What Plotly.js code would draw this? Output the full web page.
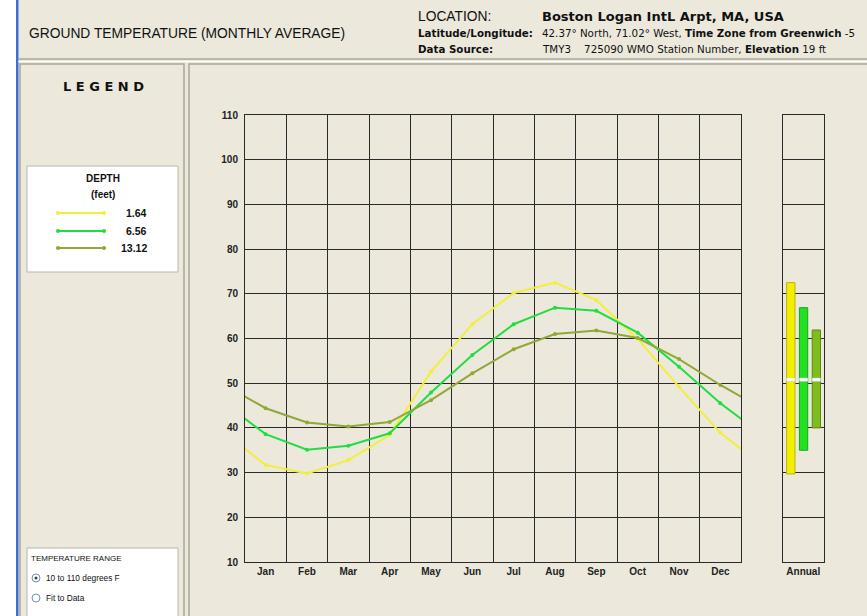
<!DOCTYPE html>
<html>
<head>
<meta charset="utf-8">
<script src="https://cdn.plot.ly/plotly-3.0.1.min.js"></script>
<style>
  html, body { margin: 0; padding: 0; background: #ece9dc; }
  #chart { width: 867px; height: 616px; }
</style>
</head>
<body>
<div id="chart"></div>
<script>
// ---- data ----
const months = ['Jan','Feb','Mar','Apr','May','Jun','Jul','Aug','Sep','Oct','Nov','Dec'];
const depthLabels = ['1.64', '6.56', '13.12'];
const depth164 = [31.7, 29.8, 32.8, 38.4, 52.6, 63.2, 70.2, 72.5, 68.6, 59.9, 49.2, 38.9];
const depth656 = [38.6, 35.1, 36.0, 38.8, 47.9, 56.3, 63.2, 66.9, 66.2, 61.3, 53.7, 45.5];
const depth1312 = [44.4, 41.2, 40.3, 41.3, 46.2, 52.2, 57.6, 61.0, 61.8, 60.1, 55.4, 49.6];
const annualMax = [72.5, 66.9, 61.9];
const annualMin = [29.7, 35.0, 40.0];
const annualMean = [50.8, 50.8, 50.8];
const yTicks = [10, 20, 30, 40, 50, 60, 70, 80, 90, 100, 110];

// ---- styling ----
const lineColors = ['#f2ee3c', '#22dc44', '#8fa836'];
const barColors = ['#f4ef00', '#22e022', '#7dbd1c'];
const barEdge = ['#b9b400', '#18a818', '#5b8a12'];
const W = 867, H = 616;
const px = x => x / W;
const py = y => 1 - y / H;
const FONT = 'Liberation Sans, Arial, sans-serif';
const WIDE = 'DejaVu Sans, Verdana, sans-serif';

// month positions: centres of 12 equal columns; wrap-around points
// (previous Dec / next Jan) let the line run to the panel edges.
const mx = months.map((m, i) => i + 0.5);
function series(vals) {
  return {
    x: [-0.5].concat(mx, [12.5]),
    y: [vals[vals.length - 1]].concat(vals, [vals[0]])
  };
}
const allDepths = [depth164, depth656, depth1312];

const traces = [];
allDepths.forEach((vals, k) => {
  const s = series(vals);
  traces.push({
    type: 'scatter', mode: 'lines+markers', x: s.x, y: s.y,
    xaxis: 'x', yaxis: 'y',
    line: { color: lineColors[k], width: 2 },
    marker: { color: lineColors[k], size: 4, symbol: 'circle' },
    name: depthLabels[k], showlegend: false, hoverinfo: 'skip'
  });
});

// annual range bars
traces.push({
  type: 'bar', x: [0, 1, 2],
  y: annualMax.map((v, i) => v - annualMin[i]),
  base: annualMin, width: 0.65,
  xaxis: 'x2', yaxis: 'y2',
  marker: { color: barColors, line: { color: barEdge, width: 1 } },
  showlegend: false, hoverinfo: 'skip'
});
// annual mean marks
traces.push({
  type: 'bar', x: [0, 1, 2],
  y: annualMean.map(() => 0.7),
  base: annualMean.map(v => v - 0.35), width: 0.65,
  xaxis: 'x2', yaxis: 'y2',
  marker: { color: '#ffffff', line: { color: '#d8d8d8', width: 0.5 } },
  showlegend: false, hoverinfo: 'skip'
});

const shapes = [];
const annotations = [];
function rect(x0, y0, x1, y1, fill, line, lw, layer) {
  shapes.push({ type: 'rect', xref: 'paper', yref: 'paper', layer: layer || 'below',
    x0: px(x0), x1: px(x1), y0: py(y1), y1: py(y0),
    fillcolor: fill, line: { color: line || 'rgba(0,0,0,0)', width: lw === undefined ? 1 : lw } });
}
function hline(x0, x1, y, color, w) {
  shapes.push({ type: 'line', xref: 'paper', yref: 'paper', layer: 'below',
    x0: px(x0), x1: px(x1), y0: py(y), y1: py(y), line: { color: color, width: w } });
}
function text(x, y, t, size, opts, family) {
  opts = opts || {};
  annotations.push(Object.assign({
    xref: 'paper', yref: 'paper', x: px(x), y: py(y), text: t, showarrow: false,
    xanchor: 'left', yanchor: 'middle',
    font: { family: family || FONT, size: size, color: '#111' }
  }, opts));
}

// window chrome
rect(0, 0, 16, 616, '#ffffff', null, 0);
rect(16, 0, 18.5, 616, '#3b6fd6', null, 0);
hline(18, 867, 59, '#a8a698', 1.5);
hline(18, 867, 61.5, '#ffffff', 1);
// panels
rect(20, 64, 184, 640, '#ece9dc', '#a9a799', 1.5);
rect(189, 64, 880, 640, '#ece9dc', '#a9a799', 1.5);
// legend box
rect(27, 166, 178, 272, '#ffffff', '#b8b6aa', 1);
// temperature range box
rect(27, 548, 178, 640, '#ffffff', '#b8b6aa', 1);

// header text
text(27, 33, 'GROUND TEMPERATURE (MONTHLY AVERAGE)', 13.8);
text(416, 16, 'LOCATION:', 13.8);
text(540, 16, '<b>Boston Logan IntL Arpt, MA, USA</b>', 13, {}, WIDE);
text(416, 33, '<b>Latitude/Longitude:</b>', 10.3, {}, WIDE);
text(540, 33, '42.37° North, 71.02° West, <b>Time Zone from Greenwich</b> -5', 10.3, {}, WIDE);
text(416, 49, '<b>Data Source:</b>', 10.3, {}, WIDE);
text(540, 49, 'TMY3&nbsp;&nbsp;&nbsp;&nbsp;725090 WMO Station Number, <b>Elevation</b> 19 ft', 10.3, {}, WIDE);

// legend panel
text(103, 86, '<b>L E G E N D</b>', 13, { xanchor: 'center' }, WIDE);
text(103, 178, '<b>DEPTH</b>', 10, { xanchor: 'center' });
text(103, 194, '<b>(feet)</b>', 10, { xanchor: 'center' });
const legY = [213, 231, 248];
depthLabels.forEach((lab, k) => {
  shapes.push({ type: 'line', xref: 'paper', yref: 'paper', layer: 'above',
    x0: px(58), x1: px(104), y0: py(legY[k]), y1: py(legY[k]),
    line: { color: lineColors[k], width: 2 } });
  [58, 104].forEach(cx => shapes.push({ type: 'circle', xref: 'paper', yref: 'paper', layer: 'above',
    x0: px(cx - 2), x1: px(cx + 2), y0: py(legY[k] + 2), y1: py(legY[k] - 2),
    fillcolor: lineColors[k], line: { width: 0 } }));
  text(149, legY[k], '<b>' + lab + '</b>', 10.5, { xanchor: 'right' });
});

// temperature range panel
text(29, 558, 'TEMPERATURE RANGE', 8);
shapes.push({ type: 'circle', xref: 'paper', yref: 'paper', layer: 'above',
  x0: px(32), x1: px(40), y0: py(582), y1: py(574), fillcolor: '#ffffff', line: { color: '#6f8fb8', width: 1 } });
shapes.push({ type: 'circle', xref: 'paper', yref: 'paper', layer: 'above',
  x0: px(34.5), x1: px(37.5), y0: py(579.5), y1: py(576.5), fillcolor: '#404040', line: { width: 0 } });
text(44, 578, '10 to 110 degrees F', 8.3);
shapes.push({ type: 'circle', xref: 'paper', yref: 'paper', layer: 'above',
  x0: px(32), x1: px(40), y0: py(602), y1: py(594), fillcolor: '#ffffff', line: { color: '#6f8fb8', width: 1 } });
text(44, 598, 'Fit to Data', 8.3);

const tickFont = { family: FONT, size: 10, color: '#222', weight: 'bold' };
const gridC = '#2a2a2a';
const layout = {
  width: W, height: H,
  margin: { l: 0, r: 0, t: 0, b: 0 },
  paper_bgcolor: '#ece9dc',
  plot_bgcolor: '#ffffff',
  showlegend: false,
  barmode: 'overlay',
  xaxis: {
    domain: [px(245), px(741)], range: [0, 12], anchor: 'y',
    tickmode: 'array', tickvals: mx, ticktext: months,
    showgrid: false, zeroline: false, ticks: '',
    minor: { tickmode: 'linear', tick0: 0, dtick: 1, showgrid: true, gridcolor: gridC, gridwidth: 1, ticks: '' },
    showline: true, mirror: true, linecolor: gridC, linewidth: 1,
    tickfont: tickFont, fixedrange: true
  },
  yaxis: {
    domain: [1 - 562 / H, 1 - 115 / H], range: [10, 110], anchor: 'x',
    tickmode: 'array', tickvals: yTicks,
    showgrid: true, gridcolor: gridC, gridwidth: 1, zeroline: false,
    showline: true, mirror: true, linecolor: gridC, linewidth: 1,
    ticks: '', ticklabelstandoff: 4,
    tickfont: tickFont, fixedrange: true
  },
  xaxis2: {
    domain: [px(782.5), px(824)], range: [-0.65, 2.6], anchor: 'y2',
    tickmode: 'array', tickvals: [0.975], ticktext: ['Annual'],
    showgrid: false, zeroline: false, ticks: '',
    showline: true, mirror: true, linecolor: gridC, linewidth: 1,
    tickfont: tickFont, fixedrange: true
  },
  yaxis2: {
    domain: [1 - 562 / H, 1 - 115 / H], range: [10, 110], anchor: 'x2',
    tickmode: 'array', tickvals: yTicks, showticklabels: false,
    showgrid: true, gridcolor: gridC, gridwidth: 1, zeroline: false,
    showline: true, mirror: true, linecolor: gridC, linewidth: 1,
    ticks: '', fixedrange: true
  },
  shapes: shapes,
  annotations: annotations
};

Plotly.newPlot('chart', traces, layout, { displayModeBar: false, staticPlot: true });
</script>
</body>
</html>
